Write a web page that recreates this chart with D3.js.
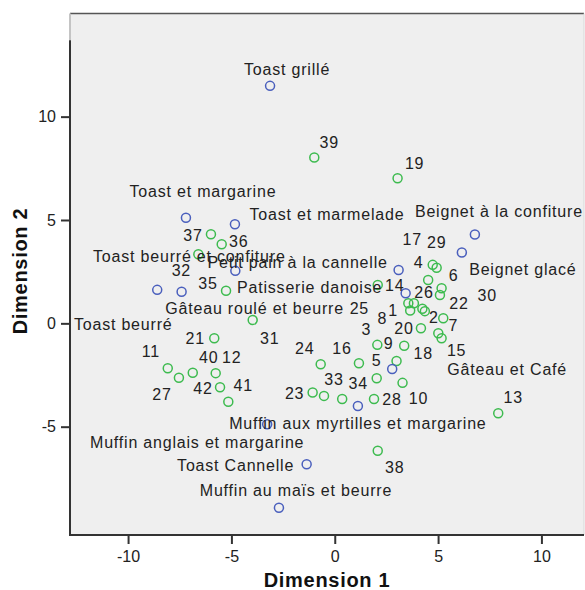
<!DOCTYPE html>
<html><head><meta charset="utf-8">
<script src="https://cdn.jsdelivr.net/npm/d3@7/dist/d3.min.js"></script>
<style>body{margin:0;background:#fff}svg{display:block}</style>
</head><body>
<script>
// ---------- DATA ----------
const foodNames = ["Toast grillé","Toast et margarine","Toast et marmelade","Beignet à la confiture","Beignet glacé",
  "Petit pain à la cannelle","Toast beurré et confiture","Patisserie danoise","Toast beurré","Gâteau roulé et beurre",
  "Gâteau et Café","Muffin aux myrtilles et margarine","Muffin anglais et margarine","Toast Cannelle","Muffin au maïs et beurre"];
const foodDim1 = [-3.13,-7.20,-4.83,6.78,6.15,3.09,-4.81,3.43,-8.59,-7.41,2.78,1.12,-3.27,-1.36,-2.70];
const foodDim2 = [11.49,5.11,4.79,4.30,3.43,2.58,2.54,1.46,1.62,1.53,-2.21,-4.00,-4.88,-6.82,-8.92];

const respIds  = [1,2,3,4,5,6,7,8,9,10,11,12,13,14,15,16,17,18,19,20,21,22,23,24,25,26,27,28,29,30,31,32,33,34,35,36,37,38,39,40,41,42];
const respDim1 = [3.65,4.36,2.06,4.74,2.03,5.17,5.25,3.56,2.99,3.28,-8.08,-5.76,7.91,2.08,5.17,1.17,4.52,3.36,3.04,4.17,-5.83,5.09,-1.07,-0.68,4.24,3.83,-7.54,1.90,4.93,5.01,-3.97,-6.60,-0.52,0.36,-5.26,-5.47,-5.99,2.08,-0.99,-6.87,-5.15,-5.55];
const respDim2 = [0.62,0.59,-1.04,2.83,-2.66,1.70,0.25,0.97,-1.82,-2.88,-2.17,-2.41,-4.35,1.86,-0.72,-1.93,2.10,-1.08,7.02,-0.24,-0.72,1.37,-3.35,-1.98,0.71,0.97,-2.63,-3.66,2.69,-0.48,0.16,3.34,-3.51,-3.66,1.58,3.83,4.31,-6.16,8.02,-2.39,-3.79,-3.09];

const xTicks = [-10,-5,0,5,10];
const yTicks = [-5,0,5,10];
const xTitle = "Dimension 1";
const yTitle = "Dimension 2";

// ---------- LAYOUT (label offsets in px relative to point) ----------
const foodLabelOffset = {
  "Toast grillé":[17,-16],"Toast et margarine":[17,-26],"Toast et marmelade":[92,-10],
  "Beignet à la confiture":[24,-23],"Beignet glacé":[61,17],"Petit pain à la cannelle":[-101,-8],
  "Toast beurré et confiture":[-46,-14],"Patisserie danoise":[-96,-6],"Toast beurré":[-34,35],
  "Gâteau roulé et beurre":[73,17],"Gâteau et Café":[115,0],"Muffin aux myrtilles et margarine":[0,17],
  "Muffin anglais et margarine":[-70,18],"Toast Cannelle":[-71,1],"Muffin au maïs et beurre":[17,-17]
};
const respLabelOffset = {
  39:[15,-15],19:[17,-15],37:[-18,1],36:[17,-3],32:[-17,16],35:[-18,-7],31:[17,18],21:[-19,0],
  11:[-17,-17],27:[-17,17],40:[16,-15],12:[16,-16],42:[-17,1],41:[15,-16],23:[-18,1],24:[-16,-16],
  16:[-17,-15],33:[10,-16],34:[16,-16],28:[18,0],10:[16,16],5:[0,-18],9:[-8,-18],3:[-11,-15],
  18:[19,8],38:[17,17],13:[15,-16],15:[15,12],30:[49,-38],7:[10,7],20:[-17,0],4:[-14,-2],
  29:[0,-25],17:[-16,-41],6:[12,-13],22:[19,8],14:[17,1],8:[-26,15],26:[10,-11],1:[-17,0],
  25:[-63,0],2:[9,6]
};

const W = 585, H = 590;
const L = 70, R = 584, T = 13.5, B = 535;

const svg = d3.select("body").append("svg").attr("width", W).attr("height", H)
  .style("font-family", "'Liberation Sans', Arial, sans-serif");

const x = d3.scaleLinear().domain([-12.81, 12.06]).range([L, R]);
const y = d3.scaleLinear().domain([-10.24, 14.99]).range([B, T]);

// plot background & frame
svg.append("rect").attr("x", L).attr("y", T).attr("width", R - L).attr("height", B - T).attr("fill", "#efefef");
svg.append("line").attr("x1", L).attr("x2", R).attr("y1", T).attr("y2", T).attr("stroke", "#555").attr("stroke-width", 1.5);
svg.append("line").attr("x1", R).attr("x2", R).attr("y1", T).attr("y2", B).attr("stroke", "#d8d8d8").attr("stroke-width", 1);
svg.append("line").attr("x1", L).attr("x2", L).attr("y1", T).attr("y2", y(13.7)).attr("stroke", "#c4c4c4").attr("stroke-width", 2);

// axes
const gx = svg.append("g").attr("transform", `translate(0,${B})`)
  .call(d3.axisBottom(x).tickValues(xTicks).tickSize(9).tickPadding(7).tickFormat(d3.format("d")));
const gy = svg.append("g").attr("transform", `translate(${L},0)`)
  .call(d3.axisLeft(y).tickValues(yTicks).tickSize(9).tickPadding(5).tickFormat(d3.format("d")));
[gx, gy].forEach(g => {
  g.select(".domain").remove();
  g.selectAll(".tick line").attr("stroke", "#333").attr("stroke-width", 2);
  g.selectAll(".tick text").attr("fill", "#222").style("font-size", "16px").style("font-family", "'Liberation Sans', Arial, sans-serif");
});
gx.selectAll(".tick text").text(d => d < 0 ? "-" + Math.abs(d) : d);
gy.selectAll(".tick text").text(d => d < 0 ? "-" + Math.abs(d) : d);

svg.append("line").attr("x1", L).attr("x2", L).attr("y1", y(13.7)).attr("y2", B + 1).attr("stroke", "#333").attr("stroke-width", 2);
svg.append("line").attr("x1", L - 1).attr("x2", R).attr("y1", B).attr("y2", B).attr("stroke", "#333").attr("stroke-width", 2);

// titles
svg.append("text").attr("x", (L + R) / 2).attr("y", 587).attr("text-anchor", "middle")
  .style("font-size", "20px").style("font-weight", "bold").style("letter-spacing", "0.7px").attr("fill", "#111").text(xTitle);
svg.append("text").attr("transform", `translate(26.5,271) rotate(-90)`).attr("text-anchor", "middle")
  .style("font-size", "20px").style("font-weight", "bold").style("letter-spacing", "0.7px").attr("fill", "#111").text(yTitle);

// data
const foods = foodNames.map((n, i) => ({ label: n, x: foodDim1[i], y: foodDim2[i], off: foodLabelOffset[n] }));
const resp = respIds.map((n, i) => ({ label: String(n), x: respDim1[i], y: respDim2[i], off: respLabelOffset[n] }));

const gp = svg.append("g");
gp.selectAll("circle.r").data(resp).join("circle").attr("class", "r")
  .attr("cx", d => x(d.x)).attr("cy", d => y(d.y)).attr("r", 4.5)
  .attr("fill", "none").attr("stroke", "#3dbb4f").attr("stroke-width", 1.5);
gp.selectAll("circle.f").data(foods).join("circle").attr("class", "f")
  .attr("cx", d => x(d.x)).attr("cy", d => y(d.y)).attr("r", 4.5)
  .attr("fill", "none").attr("stroke", "#4a5fbd").attr("stroke-width", 1.5);

const gl = svg.append("g").style("font-size", "16px").style("letter-spacing", "0.8px").attr("fill", "#222");
gl.selectAll("text").data(foods.concat(resp)).join("text")
  .attr("x", d => x(d.x) + d.off[0]).attr("y", d => y(d.y) + d.off[1])
  .attr("dy", "0.35em").attr("text-anchor", "middle").text(d => d.label);
</script>
</body></html>
